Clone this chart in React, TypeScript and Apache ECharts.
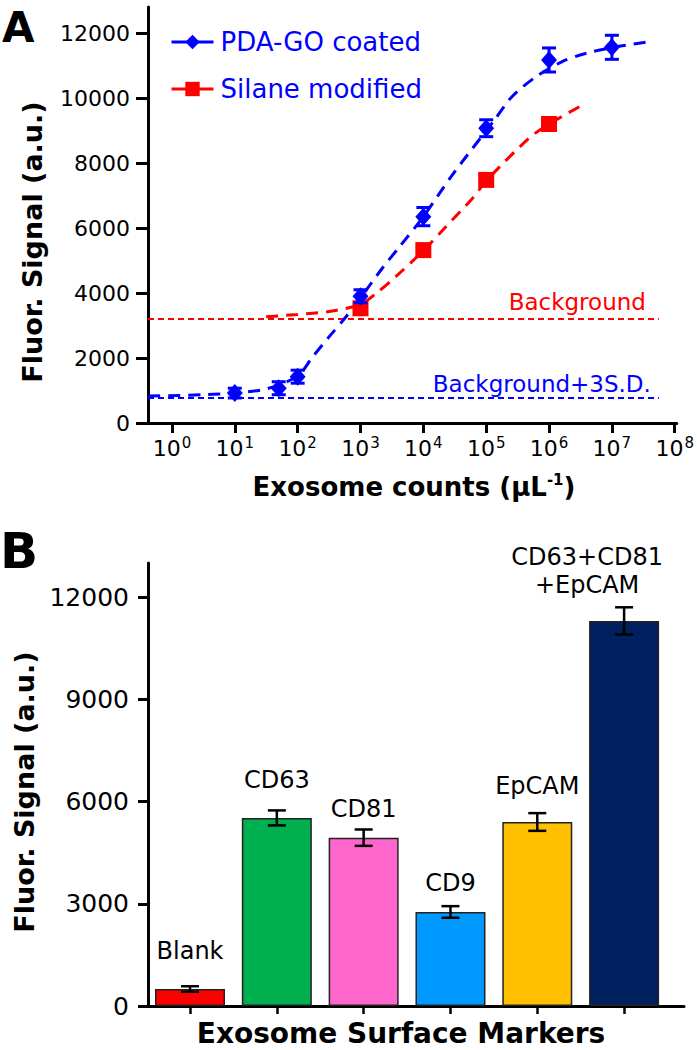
import React, { useEffect, useRef } from "react";
import * as echarts from "echarts";

// ---------- Panel A data ----------
const xTickCounts = [1, 10, 100, 1e3, 1e4, 1e5, 1e6, 1e7, 1e8];
const yTicksA = [0, 2000, 4000, 6000, 8000, 10000, 12000];

const pdaCounts = [10, 50, 100, 1e3, 1e4, 1e5, 1e6, 1e7];
const pdaSignal = [920, 1070, 1425, 3900, 6350, 9070, 11170, 11560];
const pdaErr = [150, 200, 200, 200, 280, 260, 370, 370];

const silaneCounts = [1e3, 1e4, 1e5, 1e6];
const silaneSignal = [3530, 5320, 7480, 9200];

const pdaFitCounts = [0.42, 3.2, 10, 32, 100, 174, 316, 589, 1000, 2239, 4169, 1e4, 28840, 1.35e5, 2.57e5, 6.17e5, 1.62e6, 3.8e6, 1e7, 3.6e7];
const pdaFitSignal = [830, 870, 930, 1050, 1450, 2040, 2650, 3270, 3850, 4770, 5420, 6350, 7630, 9320, 10040, 10650, 11120, 11370, 11550, 11720];

const silaneFitCounts = [31.6, 100, 316, 1000, 1778, 3715, 1e4, 20420, 60256, 1e5, 478630, 1e6, 3.39e6];
const silaneFitSignal = [3270, 3340, 3430, 3650, 3990, 4520, 5300, 5940, 6910, 7450, 8760, 9200, 9780];

const backgroundLevel = 3200;
const background3SD = 770;
const refLineCounts = [0.416, 5.6e7];

// ---------- Panel B data ----------
const markers = ["Blank", "CD63", "CD81", "CD9", "EpCAM", "CD63+CD81\n+EpCAM"];
const markerSignal = [500, 5520, 4940, 2760, 5400, 11300];
const markerErr = [80, 220, 240, 170, 260, 400];
const yTicksB = [0, 3000, 6000, 9000, 12000];

// styles
const markerColors = ["#FF0000", "#00B050", "#FF66CC", "#0099FF", "#FFC000", "#002060"];
const labelGaps = [24, 24, 15, 15, 22, 22];
const labelShift = [0, 0, 0, 0, 0, -37];

const BLUE = "#0000FF";
const RED = "#FF0000";
const FONT = "DejaVu Sans";

export default function App() {
  const ref = useRef<HTMLDivElement>(null);
  useEffect(() => {
    document.body.style.margin = "0";
    const chart = echarts.init(ref.current!, null, { renderer: "svg" });

    const errRender = (color: string, capHalf: number, width: number) => (params: any, api: any) => {
      const x = api.value(0);
      const y = api.value(1);
      const e = api.value(2);
      const top = api.coord([x, y + e]);
      const bot = api.coord([x, y - e]);
      const st = { stroke: color, lineWidth: width };
      return {
        type: "group",
        children: [
          { type: "line", shape: { x1: top[0], y1: top[1], x2: bot[0], y2: bot[1] }, style: st },
          { type: "line", shape: { x1: top[0] - capHalf, y1: top[1], x2: top[0] + capHalf, y2: top[1] }, style: st },
          { type: "line", shape: { x1: bot[0] - capHalf, y1: bot[1], x2: bot[0] + capHalf, y2: bot[1] }, style: st },
        ],
      };
    };

    const axisLineStyle = { lineStyle: { color: "#000", width: 3 } };
    const plain = (v: number) => String(v);

    const option: any = {
      animation: false,
      textStyle: { fontFamily: FONT },
      grid: [
        { left: 148, right: 19, top: 7, bottom: 627 },
        { left: 148, right: 13, top: 563, bottom: 44 },
      ],
      legend: {
        left: 165,
        top: 24,
        orient: "vertical",
        itemWidth: 42,
        itemHeight: 18,
        itemGap: 21,
        textStyle: { color: BLUE, fontSize: 26, fontFamily: FONT, padding: [0, 0, 0, 2] },
        lineStyle: { width: 3, type: "solid", opacity: 1 },
        data: ["PDA-GO coated", "Silane modified"],
      },
      xAxis: [
        {
          type: "log",
          gridIndex: 0,
          logBase: 10,
          min: Math.pow(10, -0.381),
          max: Math.pow(10, 8.032),
          axisLine: { onZero: false, ...axisLineStyle },
          axisTick: { customValues: xTickCounts, length: 10, lineStyle: { color: "#000", width: 3 } },
          minorTick: { show: false },
          splitLine: { show: false },
          axisLabel: {
            customValues: xTickCounts,
            margin: 12,
            color: "#000",
            formatter: (v: number) => `{b|10}{s|${Math.round(Math.log10(v))}}`,
            rich: {
              b: { fontSize: 22, fontFamily: FONT, color: "#000" },
              s: { fontSize: 15, fontFamily: FONT, color: "#000", padding: [0, 0, 12, 1] },
            },
          },
        },
        {
          type: "value",
          gridIndex: 1,
          min: -0.484,
          max: 5.69,
          axisLine: { onZero: false, ...axisLineStyle },
          axisTick: { customValues: [0, 1, 2, 3, 4, 5], length: 8, lineStyle: { color: "#000", width: 2.5 } },
          axisLabel: { show: false },
          splitLine: { show: false },
        },
      ],
      yAxis: [
        {
          type: "value",
          gridIndex: 0,
          min: 0,
          max: 12800,
          axisLine: { show: true, onZero: false, ...axisLineStyle },
          axisTick: { show: true, customValues: yTicksA, length: 12, lineStyle: { color: "#000", width: 3 } },
          axisLabel: { customValues: yTicksA, formatter: plain, fontSize: 22, color: "#000", margin: 18, fontFamily: FONT },
          splitLine: { show: false },
        },
        {
          type: "value",
          gridIndex: 1,
          min: 0,
          max: 13000,
          axisLine: { show: true, onZero: false, ...axisLineStyle },
          axisTick: { show: true, customValues: yTicksB, length: 10, lineStyle: { color: "#000", width: 3 } },
          axisLabel: { customValues: yTicksB, formatter: plain, fontSize: 25, color: "#000", margin: 19, fontFamily: FONT },
          splitLine: { show: false },
        },
      ],
      series: [
        // reference lines
        {
          type: "line",
          xAxisIndex: 0,
          yAxisIndex: 0,
          silent: true,
          symbol: "none",
          data: refLineCounts.map((c) => [c, backgroundLevel]),
          lineStyle: { color: RED, width: 2, type: [6, 4] },
          endLabel: {
            show: true,
            formatter: "Background",
            color: RED,
            fontSize: 23,
            fontFamily: FONT,
            align: "right",
            verticalAlign: "bottom",
            distance: 0,
            offset: [-13, -6],
          },
          z: 1,
        },
        {
          type: "line",
          xAxisIndex: 0,
          yAxisIndex: 0,
          silent: true,
          symbol: "none",
          data: refLineCounts.map((c) => [c, background3SD]),
          lineStyle: { color: BLUE, width: 2, type: [6, 4] },
          endLabel: {
            show: true,
            formatter: "Background+3S.D.",
            color: BLUE,
            fontSize: 23,
            fontFamily: FONT,
            align: "right",
            verticalAlign: "bottom",
            distance: 0,
            offset: [-8, -2],
          },
          z: 1,
        },
        // fitted curves
        {
          type: "line",
          xAxisIndex: 0,
          yAxisIndex: 0,
          silent: true,
          showSymbol: false,
          symbol: "none",
          smooth: 0.3,
          data: pdaFitCounts.map((c, i) => [c, pdaFitSignal[i]]),
          lineStyle: { color: BLUE, width: 3, type: [12, 8] },
          z: 2,
        },
        {
          type: "line",
          xAxisIndex: 0,
          yAxisIndex: 0,
          silent: true,
          showSymbol: false,
          symbol: "none",
          smooth: 0.3,
          data: silaneFitCounts.map((c, i) => [c, silaneFitSignal[i]]),
          lineStyle: { color: RED, width: 3, type: [12, 8] },
          z: 2,
        },
        // points
        {
          name: "PDA-GO coated",
          type: "line",
          xAxisIndex: 0,
          yAxisIndex: 0,
          symbol: "diamond",
          symbolSize: [16, 18],
          showSymbol: true,
          data: pdaCounts.map((c, i) => [c, pdaSignal[i]]),
          itemStyle: { color: BLUE },
          lineStyle: { color: BLUE, width: 0, opacity: 0 },
          z: 4,
        },
        {
          name: "Silane modified",
          type: "line",
          xAxisIndex: 0,
          yAxisIndex: 0,
          symbol: "rect",
          symbolSize: 16,
          showSymbol: true,
          data: silaneCounts.map((c, i) => [c, silaneSignal[i]]),
          itemStyle: { color: RED },
          lineStyle: { color: RED, width: 0, opacity: 0 },
          z: 3,
        },
        {
          type: "custom",
          xAxisIndex: 0,
          yAxisIndex: 0,
          silent: true,
          renderItem: errRender(BLUE, 7, 3),
          data: pdaCounts.map((c, i) => [c, pdaSignal[i], pdaErr[i]]),
          z: 5,
        },
        // Panel B
        {
          type: "bar",
          xAxisIndex: 1,
          yAxisIndex: 1,
          barWidth: 70,
          data: markerSignal.map((v, i) => ({
            value: [i, v],
            itemStyle: { color: markerColors[i], borderColor: "#222", borderWidth: 1.5 },
            label: { distance: labelGaps[i], offset: [labelShift[i], 0] },
          })),
          label: {
            show: true,
            position: "top",
            color: "#000",
            fontSize: 24,
            lineHeight: 28,
            fontFamily: FONT,
            formatter: (p: any) => markers[p.dataIndex],
          },
          z: 2,
        },
        {
          type: "custom",
          xAxisIndex: 1,
          yAxisIndex: 1,
          silent: true,
          renderItem: errRender("#000", 9, 2.5),
          data: markerSignal.map((v, i) => [i, v, markerErr[i]]),
          z: 5,
        },
      ],
      graphic: [
        { type: "text", left: 2, top: 6, style: { text: "A", fontSize: 42, fontWeight: "bold", fontFamily: FONT, fill: "#000" } },
        { type: "text", left: 0, top: 526, style: { text: "B", fontSize: 50, fontWeight: "bold", fontFamily: FONT, fill: "#000" } },
        {
          type: "text",
          x: 32,
          y: 242,
          rotation: Math.PI / 2,
          style: { text: "Fluor. Signal (a.u.)", fontSize: 27, fontWeight: "bold", fontFamily: FONT, fill: "#000", align: "center", verticalAlign: "middle" },
        },
        {
          type: "text",
          x: 24,
          y: 792,
          rotation: Math.PI / 2,
          style: { text: "Fluor. Signal (a.u.)", fontSize: 27, fontWeight: "bold", fontFamily: FONT, fill: "#000", align: "center", verticalAlign: "middle" },
        },
        {
          type: "text",
          x: 414,
          y: 487,
          style: {
            text: "{t|Exosome counts (μL}{s|-1}{t|)}",
            align: "center",
            verticalAlign: "middle",
            rich: {
              t: { fontSize: 26, fontWeight: "bold", fontFamily: FONT, color: "#000" },
              s: { fontSize: 15, fontWeight: "bold", fontFamily: FONT, color: "#000", padding: [0, 0, 14, 0] },
            },
          },
        },
        {
          type: "text",
          x: 401,
          y: 1033,
          style: { text: "Exosome Surface Markers", fontSize: 28, fontWeight: "bold", fontFamily: FONT, fill: "#000", align: "center", verticalAlign: "middle" },
        },
      ],
    };
    chart.setOption(option);
    return () => chart.dispose();
  }, []);
  return <div ref={ref} style={{ width: 697, height: 1050 }} />;
}
